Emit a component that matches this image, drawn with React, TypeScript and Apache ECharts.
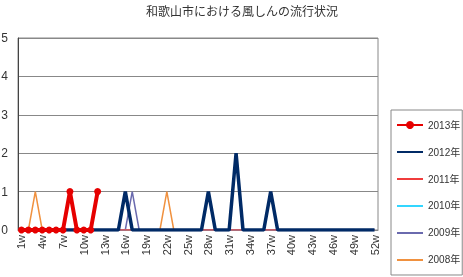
import React, { useEffect, useRef } from "react";
import * as echarts from "echarts";

const weeks: string[] = Array.from({ length: 52 }, (_, i) => `${i + 1}w`);
const yTicks = [0, 1, 2, 3, 4, 5];

const y2013 = [0, 0, 0, 0, 0, 0, 0, 1, 0, 0, 0, 1];
const y2012 = [
  0, 0, 0, 0, 0, 0, 0, 0, 0, 0, 0, 0, 0, 0, 0, 1, 0, 0, 0, 0, 0, 0, 0, 0, 0, 0,
  0, 1, 0, 0, 0, 2, 0, 0, 0, 0, 1, 0, 0, 0, 0, 0, 0, 0, 0, 0, 0, 0, 0, 0, 0, 0,
];
const y2011 = [
  0, 0, 0, 0, 0, 0, 0, 0, 0, 0, 0, 0, 0, 0, 0, 0, 0, 0, 0, 0, 0, 0, 0, 0, 0, 0,
  0, 0, 0, 0, 0, 0, 0, 0, 0, 0, 0, 0, 0, 0, 0, 0, 0, 0, 0, 0, 0, 0, 0, 0, 0, 0,
];
const y2010 = [
  0, 0, 0, 0, 0, 0, 0, 0, 0, 0, 0, 0, 0, 0, 0, 0, 0, 0, 0, 0, 0, 0, 0, 0, 0, 0,
  0, 0, 0, 0, 0, 0, 0, 0, 0, 0, 0, 0, 0, 0, 0, 0, 0, 0, 0, 0, 0, 0, 0, 0, 0, 0,
];
const y2009 = [
  0, 0, 0, 0, 0, 0, 0, 0, 0, 0, 0, 0, 0, 0, 0, 0, 1, 0, 0, 0, 0, 0, 0, 0, 0, 0,
  0, 0, 0, 0, 0, 0, 0, 0, 0, 0, 0, 0, 0, 0, 0, 0, 0, 0, 0, 0, 0, 0, 0, 0, 0, 0,
];
const y2008 = [
  0, 0, 1, 0, 0, 0, 0, 0, 0, 0, 0, 0, 0, 0, 0, 0, 0, 0, 0, 0, 0, 1, 0, 0, 0, 0,
  0, 0, 0, 0, 0, 0, 0, 0, 0, 0, 0, 0, 0, 0, 0, 0, 0, 0, 0, 0, 0, 0, 0, 0, 0, 0,
];

const FONT = "'Liberation Sans', 'Noto Sans CJK JP', sans-serif";

export default function App() {
  const ref = useRef<HTMLDivElement>(null);
  useEffect(() => {
    if (!ref.current) return;
    const chart = echarts.init(ref.current, undefined, { renderer: "svg" });
    const thin = (name: string, data: number[], color: string, w: number) => ({
      name,
      type: "line",
      data,
      symbol: "none",
      lineStyle: { color, width: w },
      itemStyle: { color },
    });
    const hideSym = (name: string) => ({ name, itemStyle: { opacity: 0 } });
    chart.setOption({
      animation: false,
      textStyle: { fontFamily: FONT },
      title: {
        text: "和歌山市における風しんの流行状況",
        left: 237,
        textAlign: "center",
        top: 1,
        textStyle: { fontSize: 12, fontWeight: "normal", color: "#333", fontFamily: FONT },
      },
      legend: {
        orient: "vertical",
        left: 391,
        top: 110,
        padding: [10, 2, 10, 5],
        itemWidth: 26,
        itemHeight: 10,
        itemGap: 17,
        borderColor: "#888",
        borderWidth: 1,
        textStyle: { fontSize: 10, color: "#333", fontFamily: FONT },
        data: [
          { name: "2013年" },
          hideSym("2012年"),
          hideSym("2011年"),
          hideSym("2010年"),
          hideSym("2009年"),
          hideSym("2008年"),
        ],
      },
      grid: {
        left: 18,
        right: 85,
        top: 38,
        bottom: 47,
        show: true,
        borderColor: "#888",
        borderWidth: 1,
        outerBoundsMode: "none",
      },
      xAxis: {
        type: "category",
        data: weeks,
        boundaryGap: true,
        axisLine: { lineStyle: { color: "#888" } },
        axisTick: { inside: true, length: 3, interval: 0, lineStyle: { color: "#666" } },
        axisLabel: {
          interval: 2,
          rotate: 90,
          fontSize: 11,
          color: "#333",
          margin: 5,
          fontFamily: FONT,
        },
      },
      yAxis: {
        type: "value",
        min: yTicks[0],
        max: yTicks[yTicks.length - 1],
        interval: 1,
        axisLine: { show: true, lineStyle: { color: "#444" } },
        axisTick: { show: false },
        axisLabel: { fontSize: 12, color: "#333", margin: 10, fontFamily: FONT },
        splitLine: { lineStyle: { color: "#888" } },
      },
      series: [
        thin("2008年", y2008, "#F0913F", 1.5),
        thin("2009年", y2009, "#6A6AAE", 1.5),
        thin("2010年", y2010, "#33D6FF", 1.5),
        thin("2011年", y2011, "#F03C3C", 1.5),
        thin("2012年", y2012, "#002A66", 3.5),
        {
          name: "2013年",
          type: "line",
          data: y2013,
          symbol: "circle",
          symbolSize: 7,
          showAllSymbol: true,
          lineStyle: { color: "#E60000", width: 4 },
          itemStyle: { color: "#E60000" },
        },
      ],
    });
    return () => chart.dispose();
  }, []);
  return (
    <div
      ref={ref}
      style={{ position: "fixed", left: 0, top: 0, width: 463, height: 277 }}
    />
  );
}
